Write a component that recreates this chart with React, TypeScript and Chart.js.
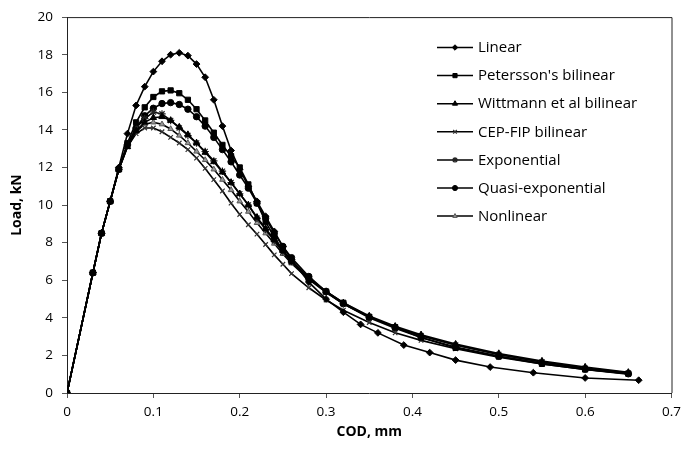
import React, { useEffect, useRef } from 'react';
import { Chart, registerables } from 'chart.js';
import { drawPoint } from 'chart.js/helpers';

Chart.register(...registerables);

const seriesNames = [
  'Linear',
  "Petersson's bilinear",
  'Wittmann et al bilinear',
  'CEP-FIP bilinear',
  'Exponential',
  'Quasi-exponential',
  'Nonlinear',
];

const xTicks = [0, 0.1, 0.2, 0.3, 0.4, 0.5, 0.6, 0.7];
const yTicks = [0, 2, 4, 6, 8, 10, 12, 14, 16, 18, 20];

const linearX = [0, 0.03, 0.04, 0.05, 0.06, 0.07, 0.08, 0.09, 0.1, 0.11, 0.12, 0.13, 0.14, 0.15, 0.16, 0.17, 0.18, 0.19, 0.2, 0.21, 0.22, 0.23, 0.24, 0.25, 0.26, 0.28, 0.3, 0.32, 0.34, 0.36, 0.39, 0.42, 0.45, 0.49, 0.54, 0.6, 0.662];
const linearY = [0, 6.4, 8.5, 10.2, 12.0, 13.8, 15.3, 16.3, 17.1, 17.65, 18.0, 18.1, 17.95, 17.5, 16.8, 15.6, 14.2, 12.9, 11.9, 11.0, 10.2, 9.4, 8.6, 7.8, 7.1, 5.9, 5.0, 4.3, 3.65, 3.2, 2.55, 2.15, 1.75, 1.38, 1.08, 0.8, 0.68];

const codSteps = [0, 0.03, 0.04, 0.05, 0.06, 0.07, 0.08, 0.09, 0.1, 0.11, 0.12, 0.13, 0.14, 0.15, 0.16, 0.17, 0.18, 0.19, 0.2, 0.21, 0.22, 0.23, 0.24, 0.25, 0.26, 0.28, 0.3, 0.32, 0.35, 0.38, 0.41, 0.45, 0.5, 0.55, 0.6, 0.65];

const peterssonY = [0, 6.4, 8.5, 10.2, 11.9, 13.3, 14.4, 15.2, 15.75, 16.05, 16.1, 15.95, 15.6, 15.1, 14.5, 13.85, 13.2, 12.6, 12.0, 11.1, 10.1, 9.1, 8.3, 7.6, 7.0, 6.1, 5.4, 4.8, 4.05, 3.5, 2.95, 2.4, 1.95, 1.55, 1.25, 1.03];
const wittmannY = [0, 6.4, 8.5, 10.2, 11.9, 13.1, 13.95, 14.4, 14.65, 14.7, 14.5, 14.15, 13.75, 13.3, 12.8, 12.3, 11.75, 11.2, 10.6, 10.0, 9.35, 8.75, 8.15, 7.6, 7.05, 6.15, 5.4, 4.8, 4.1, 3.55, 3.1, 2.6, 2.1, 1.7, 1.38, 1.1];
const cepFipY = [0, 6.4, 8.5, 10.2, 11.9, 13.1, 13.8, 14.1, 14.1, 13.9, 13.6, 13.3, 12.95, 12.5, 11.95, 11.35, 10.75, 10.1, 9.5, 8.95, 8.45, 7.9, 7.35, 6.85, 6.35, 5.6, 4.95, 4.4, 3.75, 3.2, 2.8, 2.35, 1.9, 1.55, 1.25, 1.0];
const exponentialY = [0, 6.4, 8.5, 10.2, 11.9, 13.2, 14.1, 14.6, 14.95, 14.85, 14.5, 14.1, 13.7, 13.3, 12.85, 12.35, 11.8, 11.2, 10.6, 10.0, 9.3, 8.7, 8.1, 7.5, 7.0, 6.1, 5.35, 4.75, 4.05, 3.5, 3.05, 2.55, 2.05, 1.65, 1.32, 1.05];
const quasiExpY = [0, 6.4, 8.5, 10.2, 11.9, 13.2, 14.1, 14.75, 15.15, 15.4, 15.45, 15.35, 15.1, 14.7, 14.2, 13.6, 12.95, 12.3, 11.6, 10.9, 10.1, 9.3, 8.5, 7.8, 7.2, 6.2, 5.4, 4.75, 4.0, 3.45, 2.95, 2.45, 1.95, 1.58, 1.27, 1.02];
const nonlinearY = [0, 6.4, 8.5, 10.2, 11.9, 13.1, 13.9, 14.3, 14.4, 14.3, 14.05, 13.7, 13.3, 12.85, 12.4, 11.9, 11.35, 10.8, 10.2, 9.65, 9.05, 8.5, 7.95, 7.4, 6.9, 6.05, 5.35, 4.75, 4.05, 3.5, 3.05, 2.55, 2.05, 1.65, 1.33, 1.07];

const seriesX = [linearX, codSteps, codSteps, codSteps, codSteps, codSteps, codSteps];
const seriesY = [linearY, peterssonY, wittmannY, cepFipY, exponentialY, quasiExpY, nonlinearY];

const markerStyles: any[] = [
  { pointStyle: 'rectRot', radius: 3.4, bg: '#000', border: '#000', bw: 1 },
  { pointStyle: 'rect', radius: 3.7, bg: '#000', border: '#000', bw: 1 },
  { pointStyle: 'triangle', radius: 3.7, bg: '#000', border: '#000', bw: 1 },
  { pointStyle: 'crossRot', radius: 3.2, bg: '#000', border: '#333', bw: 1.2 },
  { pointStyle: 'star', radius: 3.7, bg: '#000', border: '#222', bw: 1.2 },
  { pointStyle: 'circle', radius: 3.2, bg: '#000', border: '#000', bw: 1 },
  { pointStyle: 'triangle', radius: 3.2, bg: '#999', border: '#555', bw: 1 },
];

const FONT = "'Open Sans', 'Noto Sans', sans-serif";

const frameAndLegend = {
  id: 'frameAndLegend',
  afterDraw(chart: any) {
    const { ctx, chartArea } = chart;
    ctx.save();
    ctx.strokeStyle = '#222';
    ctx.lineWidth = 1;
    ctx.beginPath();
    ctx.moveTo(chartArea.left, chartArea.top + 0.5);
    ctx.lineTo(chartArea.right + 0.5, chartArea.top + 0.5);
    ctx.lineTo(chartArea.right + 0.5, chartArea.bottom);
    ctx.stroke();

    const x0 = 437;
    const x1 = 473;
    const y0 = 47.5;
    const dy = 28.1;
    ctx.font = `15px ${FONT}`;
    ctx.textBaseline = 'middle';
    ctx.textAlign = 'left';
    seriesNames.forEach((name, i) => {
      const y = y0 + i * dy;
      ctx.strokeStyle = '#000';
      ctx.lineWidth = 1.5;
      ctx.beginPath();
      ctx.moveTo(x0, y);
      ctx.lineTo(x1, y);
      ctx.stroke();
      const m = markerStyles[i];
      ctx.fillStyle = m.bg;
      ctx.strokeStyle = m.border;
      ctx.lineWidth = m.bw;
      drawPoint(ctx, { pointStyle: m.pointStyle, radius: m.radius * 0.8, borderWidth: m.bw, rotation: 0 } as any, (x0 + x1) / 2, y);
      ctx.fillStyle = '#000';
      ctx.fillText(name, 478, y + 0.5);
    });
    ctx.restore();
  },
};

export default function App() {
  const canvasRef = useRef<HTMLCanvasElement | null>(null);

  useEffect(() => {
    if (!canvasRef.current) return;
    const datasets = seriesNames.map((name, i) => {
      const m = markerStyles[i];
      return {
        label: name,
        data: seriesX[i].map((x, j) => ({ x, y: seriesY[i][j] })),
        borderColor: '#000',
        borderWidth: 1.6,
        backgroundColor: m.bg,
        pointStyle: m.pointStyle,
        pointRadius: m.radius,
        pointBackgroundColor: m.bg,
        pointBorderColor: m.border,
        pointBorderWidth: m.bw,
        tension: 0,
        fill: false,
        showLine: true,
      };
    });

    const chart = new Chart(canvasRef.current, {
      type: 'scatter',
      data: { datasets },
      options: {
        animation: false,
        responsive: false,
        devicePixelRatio: 1,
        layout: { padding: { left: 5, right: 12, top: 13, bottom: 23 } },
        plugins: {
          legend: { display: false },
          tooltip: { enabled: false },
        },
        scales: {
          x: {
            type: 'linear',
            min: 0,
            max: 0.7,
            afterFit: (s: any) => {
              s.height = 51;
            },
            afterBuildTicks: (s: any) => {
              s.ticks = xTicks.map((v) => ({ value: v }));
            },
            ticks: {
              color: '#000',
              font: { family: FONT, size: 13.5 },
              padding: 6,
              callback: (v: any) => String(Number(Number(v).toFixed(1))),
            },
            grid: {
              drawOnChartArea: false,
              drawTicks: true,
              tickLength: 5,
              color: '#555',
            },
            border: { display: true, color: '#222', width: 1 },
            title: {
              display: true,
              text: 'COD, mm',
              color: '#000',
              font: { family: FONT, size: 14, weight: 'bold' },
              padding: { top: 4, bottom: 4 },
            },
          },
          y: {
            type: 'linear',
            min: 0,
            max: 20,
            afterFit: (s: any) => {
              s.width = 62;
            },
            afterBuildTicks: (s: any) => {
              s.ticks = yTicks.map((v) => ({ value: v }));
            },
            ticks: {
              color: '#000',
              font: { family: FONT, size: 13.5 },
              padding: 9,
            },
            grid: {
              drawOnChartArea: false,
              drawTicks: true,
              tickLength: 5,
              color: '#555',
            },
            border: { display: true, color: '#222', width: 1 },
            title: {
              display: true,
              text: 'Load, kN',
              color: '#000',
              font: { family: FONT, size: 14, weight: 'bold' },
              padding: { top: 4, bottom: 4 },
            },
          },
        },
      },
      plugins: [frameAndLegend],
    } as any);

    return () => chart.destroy();
  }, []);

  return (
    <div style={{ position: 'absolute', left: 0, top: 0, width: 687, height: 467, background: '#fff' }}>
      <canvas ref={canvasRef} width={687} height={467} style={{ width: 687, height: 467, display: 'block' }} />
    </div>
  );
}
